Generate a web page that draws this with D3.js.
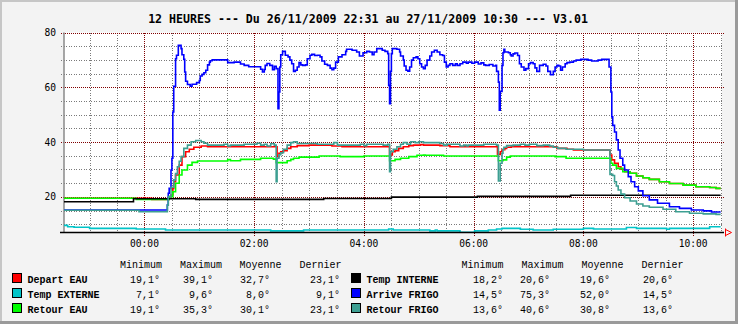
<!DOCTYPE html>
<html>
<head>
<meta charset="utf-8">
<script src="https://cdn.jsdelivr.net/npm/d3@7"></script>
<style>
  body { margin: 0; background: #f3f3f3; }
  svg { display: block; }
</style>
</head>
<body>
<svg id="chart"></svg>
<script>
// 12h log, one point per change, "HH:MM" (evening = 26/11, morning = 27/11)
var departEau = [["22:32",19.5],["00:08",19.1],["00:27",20.0],["00:29",20.7],["00:31",23.1],["00:32",25.5],["00:34",28.0],["00:38",31.6],["00:41",34.7],["00:45",36.5],["00:49",37.4],["00:54",38.1],["01:02",38.6],["01:09",38.3],["02:25",34.7],["02:27",35.9],["02:29",36.5],["02:32",36.9],["02:36",37.7],["02:40",38.3],["02:47",38.7],["03:00",38.9],["03:25",38.6],["03:36",38.3],["04:28",35.3],["04:31",36.5],["04:34",36.9],["04:38",37.7],["04:43",38.3],["04:49",38.7],["04:54",38.9],["05:02",39.1],["05:05",38.9],["05:23",38.7],["05:34",38.3],["06:26",35.5],["06:29",36.5],["06:31",37.2],["06:34",37.7],["06:36",38.1],["06:41",38.3],["07:31",37.7],["07:42",37.4],["07:49",37.1],["08:29",35.3],["08:31",33.5],["08:34",32.3],["08:38",31.0],["08:41",30.1],["08:45",29.2],["08:51",28.6],["08:58",27.6],["09:05",27.0],["09:12",26.4],["09:23",25.5],["09:34",24.9],["09:49",24.3],["10:03",23.7],["10:18",23.4],["10:25",23.1],["10:30",23.1]];

var tempExterne = [["22:32",9.6],["22:36",9.1],["22:43",8.9],["23:00",8.5],["23:51",8.3],["00:23",7.9],["02:18",7.6],["02:54",7.9],["04:27",8.3],["04:32",7.9],["05:12",7.6],["05:18",7.9],["05:20",7.6],["05:45",7.1],["06:01",7.6],["06:16",7.9],["06:25",8.3],["06:31",8.5],["06:51",8.2],["07:05",7.9],["07:27",8.2],["08:00",8.5],["08:11",8.3],["08:47",8.8],["08:58",8.5],["09:31",8.2],["09:34",8.5],["10:18",9.1],["10:30",9.1]];

var retourEau = [["22:32",19.5],["23:51",19.1],["00:27",20.1],["00:31",21.9],["00:34",25.0],["00:38",28.0],["00:41",29.8],["00:47",31.6],["00:52",32.6],["00:58",33.1],["01:31",33.6],["01:34",33.2],["01:45",33.7],["02:07",34.1],["02:21",33.8],["02:24",32.5],["02:36",33.2],["02:40",33.7],["02:43",34.1],["02:49",34.5],["03:11",34.9],["03:34",34.7],["04:00",34.9],["04:28",33.2],["04:34",33.7],["04:40",34.1],["04:49",34.7],["04:58",35.2],["05:05",35.3],["05:07",35.2],["05:27",34.9],["06:27",33.2],["06:32",33.5],["06:36",34.5],["06:40",34.9],["07:29",34.7],["07:41",34.1],["08:30",32.3],["08:32",31.6],["08:36",30.4],["08:43",29.2],["08:51",28.6],["08:58",27.6],["09:05",27.0],["09:12",26.4],["09:23",25.5],["09:34",24.9],["09:49",24.3],["10:03",23.7],["10:18",23.4],["10:25",23.1],["10:30",23.1]];

var tempInterne = [["22:32",18.2],["23:48",19.3],["00:56",19.1],["03:16",19.4],["04:30",19.9],["06:04",20.2],["07:46",20.6],["10:30",20.6]];

var arriveFrigo = [["22:32",15.2],["00:25",17.0],["00:26",21.3],["00:27",23.1],["00:29",29.8],["00:30",34.1],["00:31",51.0],["00:32",60.4],["00:34",70.4],["00:35",71.7],["00:37",75.3],["00:40",74.1],["00:41",71.9],["00:43",70.2],["00:44",65.6],["00:45",62.2],["00:47",61.0],["00:50",60.4],["00:52",61.1],["00:57",61.7],["01:00",62.5],["01:01",64.1],["01:03",64.7],["01:05",65.3],["01:07",66.2],["01:09",68.2],["01:11",69.2],["01:12",69.7],["01:14",70.0],["01:31",69.0],["01:38",69.2],["01:45",68.5],["01:49",68.0],["01:54",67.5],["02:07",66.6],["02:09",65.6],["02:11",66.5],["02:12",68.0],["02:14",68.7],["02:17",68.0],["02:20",66.4],["02:22",67.7],["02:24",66.8],["02:26",52.2],["02:27",58.3],["02:28",67.4],["02:29",71.9],["02:31",73.1],["02:34",71.7],["02:37",71.1],["02:39",69.9],["02:41",68.6],["02:43",65.8],["02:45",66.2],["02:47",67.4],["02:49",69.0],["02:51",68.2],["02:53",68.0],["02:56",68.2],["02:58",70.4],["03:01",71.7],["03:03",72.0],["03:06",71.6],["03:09",71.7],["03:12",71.1],["03:14",69.6],["03:17",68.4],["03:20",68.0],["03:23",67.0],["03:25",66.4],["03:27",67.0],["03:29",69.2],["03:32",71.1],["03:36",71.9],["03:40",73.1],["03:41",73.9],["03:47",73.5],["03:52",72.9],["03:55",71.4],["03:59",72.6],["04:03",73.1],["04:06",72.9],["04:09",71.9],["04:11",72.9],["04:14",74.1],["04:20",73.5],["04:23",73.1],["04:26",72.3],["04:27",60.7],["04:28",54.0],["04:29",65.8],["04:30",72.3],["04:31",74.1],["04:36",73.9],["04:39",72.9],["04:40",71.4],["04:43",69.9],["04:44",67.8],["04:46",66.2],["04:48",65.9],["04:50",67.4],["04:52",69.9],["04:54",70.8],["04:57",71.1],["04:59",70.4],["05:01",68.6],["05:03",67.4],["05:05",66.8],["05:07",68.0],["05:09",69.9],["05:12",71.4],["05:14",72.9],["05:17",73.5],["05:20",72.9],["05:23",71.9],["05:26",71.6],["05:28",69.2],["05:30",67.4],["05:32",68.0],["05:34",68.6],["05:37",68.0],["05:40",68.6],["05:42",68.0],["05:45",68.6],["05:48",69.2],["05:52",68.8],["05:54",69.2],["05:58",68.8],["06:01",69.2],["06:05",68.5],["06:08",68.9],["06:11",68.2],["06:13",68.0],["06:17",68.3],["06:21",67.8],["06:24",68.0],["06:25",65.8],["06:27",61.9],["06:28",51.6],["06:29",58.5],["06:31",68.0],["06:32",72.6],["06:33",73.9],["06:34",72.9],["06:38",72.6],["06:40",71.9],["06:41",71.4],["06:43",72.2],["06:45",72.5],["06:48",71.6],["06:50",68.6],["06:52",67.4],["06:55",66.2],["06:57",66.8],["07:00",68.6],["07:02",69.0],["07:05",68.6],["07:07",67.1],["07:09",65.8],["07:12",68.0],["07:16",68.4],["07:19",67.8],["07:21",65.8],["07:24",64.6],["07:27",65.8],["07:29",67.4],["07:31",68.0],["07:33",67.8],["07:35",66.2],["07:37",67.4],["07:40",68.6],["07:42",69.0],["07:45",69.2],["07:49",69.6],["07:52",69.9],["07:57",70.2],["08:05",69.9],["08:09",69.6],["08:16",69.9],["08:20",70.2],["08:28",67.4],["08:30",58.3],["08:31",49.2],["08:32",46.1],["08:34",43.7],["08:36",40.8],["08:38",37.1],["08:40",34.1],["08:43",31.6],["08:45",29.8],["08:49",27.4],["08:52",25.5],["08:56",23.7],["09:00",22.2],["09:05",20.4],["09:12",18.9],["09:21",17.7],["09:34",16.4],["09:45",15.8],["09:58",15.2],["10:11",14.9],["10:20",14.5],["10:30",14.5]];

var retourFrigo = [["22:32",15.1],["23:54",14.6],["00:25",17.0],["00:26",20.1],["00:29",23.5],["00:32",26.2],["00:34",28.5],["00:36",31.0],["00:38",33.0],["00:40",34.7],["00:43",37.7],["00:47",38.9],["00:51",40.1],["00:56",40.6],["01:02",40.1],["01:05",39.6],["01:09",38.9],["01:27",39.2],["01:31",38.6],["01:34",38.9],["01:49",39.2],["02:03",39.6],["02:07",38.9],["02:11",39.2],["02:14",38.6],["02:18",39.4],["02:22",38.9],["02:24",25.5],["02:25",34.1],["02:27",35.4],["02:29",36.1],["02:32",37.4],["02:36",38.9],["02:40",39.8],["02:43",40.1],["02:47",39.5],["03:09",39.2],["03:27",39.8],["03:31",38.9],["03:56",39.2],["04:00",38.7],["04:03",39.2],["04:21",38.9],["04:26",39.2],["04:28",29.2],["04:29",36.5],["04:32",37.4],["04:36",38.3],["04:40",39.2],["04:43",39.8],["04:47",39.2],["04:51",40.1],["04:56",39.8],["05:00",40.1],["05:05",39.8],["05:23",39.5],["05:27",38.9],["05:31",39.2],["05:45",38.6],["05:49",38.9],["05:52",38.6],["05:54",38.9],["06:11",39.2],["06:25",38.9],["06:27",25.8],["06:29",32.3],["06:31",35.9],["06:32",37.4],["06:33",38.1],["06:36",38.7],["06:43",38.9],["06:51",39.2],["06:56",38.9],["07:01",39.2],["07:09",38.7],["07:16",38.9],["07:23",38.6],["07:27",38.1],["07:32",37.7],["07:41",37.4],["08:00",37.1],["08:29",28.2],["08:32",27.8],["08:34",25.5],["08:36",24.0],["08:38",22.5],["08:41",21.0],["08:45",19.7],["08:51",18.5],["08:58",17.4],["09:05",16.7],["09:12",16.2],["09:27",15.5],["09:41",14.6],["09:56",14.0],["10:11",13.8],["10:25",13.6],["10:30",13.6]];

var seriesNames = ["Depart EAU", "Temp EXTERNE", "Retour EAU", "Temp INTERNE", "Arrive FRIGO", "Retour FRIGO"];
var seriesColors = ["#ff0000", "#00c4c8", "#00ff00", "#000000", "#0000ff", "#3d9f92"];
var seriesData = [departEau, tempExterne, retourEau, tempInterne, arriveFrigo, retourFrigo];

var statHeaders = ["Minimum", "Maximum", "Moyenne", "Dernier"];
var statMin = [19.1, 7.1, 19.1, 18.2, 14.5, 13.6];
var statMax = [39.1, 9.6, 35.3, 20.6, 75.3, 40.6];
var statMoy = [32.7, 8.0, 30.1, 19.6, 52.0, 30.8];
var statLast = [23.1, 9.1, 23.1, 20.6, 14.5, 13.6];

var yTicks = [20, 40, 60, 80];
var xTickLabels = ["00:00", "02:00", "04:00", "06:00", "08:00", "10:00"];
var chartTitle = "12 HEURES --- Du 26/11/2009 22:31 au 27/11/2009 10:30 --- V3.01";

function parseTime(s) {
    var p = s.split(":").map(Number);
    // evening hours belong to the 26th, morning to the 27th
    return new Date(2009, 10, p[0] >= 12 ? 26 : 27, p[0], p[1]);
}

drawChart();

function drawChart() {
    var svgWidth = 738, svgHeight = 324;
    var plotLeft = 64, plotRight = 722, plotTop = 32.5, plotBottom = 232.5;

    var svg = d3.select("#chart")
        .attr("width", svgWidth)
        .attr("height", svgHeight);

    // frame
    svg.append("rect").attr("width", svgWidth).attr("height", svgHeight).attr("fill", "#f3f3f3");
    svg.append("path").attr("d", "M1,324V1H738").attr("fill", "none").attr("stroke", "#c6c6c6").attr("stroke-width", 2);
    svg.append("path").attr("d", "M736.5,0V322.5H0").attr("fill", "none").attr("stroke", "#9a9a9a").attr("stroke-width", 3);

    svg.append("text")
        .attr("x", 368)
        .attr("y", 22.7)
        .attr("text-anchor", "middle")
        .style("font-family", "'DejaVu Sans Mono', monospace")
        .style("font-weight", "bold")
        .style("font-size", "11.6px")
        .text(chartTitle);

    var x = d3.scaleTime()
        .domain([new Date(2009, 10, 26, 22, 32), new Date(2009, 10, 27, 10, 31, 30)])
        .range([plotLeft, plotRight]);

    var y = d3.scaleLinear()
        .domain([7, 80])
        .range([plotBottom, plotTop]);

    svg.append("rect")
        .attr("x", plotLeft).attr("y", plotTop)
        .attr("width", plotRight - plotLeft).attr("height", plotBottom - plotTop)
        .attr("fill", "#ffffff");

    var grid = svg.append("g").attr("shape-rendering", "crispEdges");

    // vertical grid every 30 min, dark red every 2 h
    var halfHours = d3.timeMinute.every(30).range(new Date(2009, 10, 26, 23, 0), new Date(2009, 10, 27, 10, 31));
    halfHours.forEach(function(d) {
        var major = d.getMinutes() === 0 && d.getHours() % 2 === 0;
        var px = Math.round(x(d)) + 0.5;
        grid.append("line")
            .attr("x1", px).attr("x2", px)
            .attr("y1", plotTop).attr("y2", major ? plotBottom + 3 : plotBottom)
            .attr("stroke", major ? "#800000" : "#7a7a7a")
            .attr("stroke-dasharray", major ? "1,1" : "1,1.5");
    });

    // horizontal grid every 5 degrees, dark red every 20
    d3.range(10, 81, 5).forEach(function(v) {
        var major = v % 20 === 0;
        var py = Math.round(y(v)) + 0.5;
        grid.append("line")
            .attr("x1", plotLeft - 3).attr("x2", plotRight + 2)
            .attr("y1", py).attr("y2", py)
            .attr("stroke", major ? "#800000" : "#7a7a7a")
            .attr("stroke-dasharray", major ? "1,1" : "1,1.5");
    });

    // y axis
    svg.append("line")
        .attr("x1", plotLeft).attr("x2", plotLeft)
        .attr("y1", plotTop).attr("y2", plotBottom)
        .attr("stroke", "#8a8a8a").attr("stroke-width", 1.5);

    svg.append("g")
        .selectAll("text")
        .data(yTicks)
        .enter().append("text")
        .attr("x", 56)
        .attr("y", function(d) { return y(d) + 3.5; })
        .attr("text-anchor", "end")
        .style("font-family", "'DejaVu Sans Mono', monospace")
        .style("font-size", "9.6px")
        .text(function(d) { return d; });

    // series, drawn as steps like the logger records them
    var line = d3.line()
        .curve(d3.curveStepAfter)
        .x(function(d) { return x(parseTime(d[0])); })
        .y(function(d) { return y(d[1]); });

    seriesData.forEach(function(data, i) {
        svg.append("path")
            .datum(data)
            .attr("fill", "none")
            .attr("stroke", seriesColors[i])
            .attr("stroke-width", 1.6)
            .attr("d", line);
    });

    // x axis
    svg.append("line")
        .attr("x1", plotLeft - 4).attr("x2", plotRight + 2)
        .attr("y1", plotBottom).attr("y2", plotBottom)
        .attr("stroke", "#000").attr("stroke-width", 1.5);

    svg.append("path")
        .attr("d", "M725.5,228.5V236.5M725.5,229.5L731.5,232.5L725.5,235.5")
        .attr("fill", "none")
        .attr("stroke", "#ff0000");

    svg.append("g")
        .selectAll("text")
        .data(xTickLabels)
        .enter().append("text")
        .attr("x", function(d) { return x(parseTime(d)); })
        .attr("y", 247)
        .attr("text-anchor", "middle")
        .style("font-family", "'DejaVu Sans Mono', monospace")
        .style("font-size", "9.6px")
        .text(function(d) { return d; });

    // legend with statistics
    function fmt(v) { return d3.format(".1f")(v).replace(".", ",") + "\u00b0"; }

    var groups = [
        { swatch: 12.5, label: 27.5, head: [120, 180, 239.5, 299.5], end: [160, 213, 270, 340] },
        { swatch: 351.5, label: 366.5, head: [461.5, 521.5, 581.5, 641.5], end: [503, 550, 610, 673] }
    ];
    var rowBase = [283, 298, 313];
    var legendFont = "'Liberation Mono', 'Courier New', monospace";

    groups.forEach(function(gp, gi) {
        var legend = svg.append("g");
        statHeaders.forEach(function(h, k) {
            legend.append("text")
                .attr("x", gp.head[k]).attr("y", 268)
                .style("font-family", legendFont)
                .style("font-size", "10px")
                .text(h);
        });
        for (var r = 0; r < 3; r++) {
            var s = gi * 3 + r;
            legend.append("rect")
                .attr("x", gp.swatch).attr("y", rowBase[r] - 9.5)
                .attr("width", 9).attr("height", 9)
                .attr("fill", seriesColors[s])
                .attr("stroke", "#000")
                .attr("shape-rendering", "crispEdges");
            legend.append("text")
                .attr("x", gp.label).attr("y", rowBase[r])
                .style("font-family", legendFont)
                .style("font-weight", "bold")
                .style("font-size", "10px")
                .text(seriesNames[s]);
            [statMin, statMax, statMoy, statLast].forEach(function(col, k) {
                legend.append("text")
                    .attr("x", gp.end[k]).attr("y", rowBase[r])
                    .attr("text-anchor", "end")
                    .style("font-family", legendFont)
                    .style("font-size", "10px")
                    .text(fmt(col[s]));
            });
        }
    });
}
</script>
</body>
</html>
